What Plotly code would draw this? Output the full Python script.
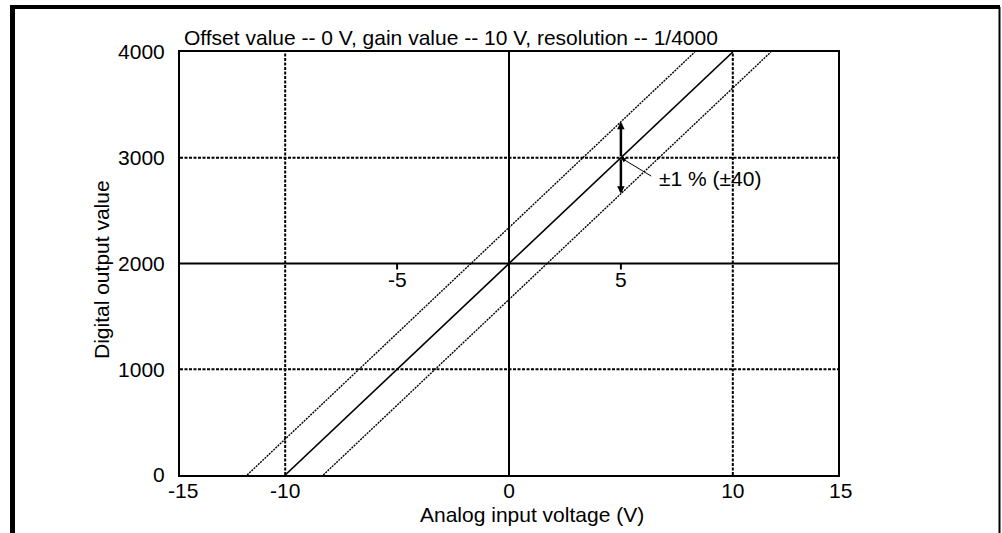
import plotly.graph_objects as go

# ---- data ----
ideal_x = [-10, 10]
ideal_y = [0, 4000]
upper_x = [-11.7, 8.3]
upper_y = [0, 4000]
lower_x = [-8.3, 11.7]
lower_y = [0, 4000]

x_ticks = [-10, 0, 10]
x_tick_text = ["-10", "0", "10"]
x_end_labels = ["-15", "15"]
y_ticks = [0, 1000, 2000, 3000, 4000]
y_tick_text = ["0", "1000", "2000", "3000", "4000"]
x_dash_grid = [-10, 10]
y_dash_grid = [1000, 3000]
inner_ticks = [-5, 5]
inner_tick_text = ["-5", "5"]
center_x = 0
center_y = 2000

err_x = 5
err_center = 3000
err_top = 3340
err_bottom = 2660
err_label = "±1 % (±40)"
label_x, label_y = 6.6, 2800
leader_tail = (6.42, 2818)

title_text = "Offset value -- 0 V, gain value -- 10 V, resolution -- 1/4000"
x_title = "Analog input voltage (V)"
y_title = "Digital output value"

FONT = "Liberation Sans, Arial, sans-serif"
FS = 21
W, H = 1002, 533
L, R, T, B = 180, 838, 52, 475


def px(xp):
    return (xp - L) / (R - L)


def py(yp):
    return (B - yp) / (B - T)


fig = go.Figure()
dash = "3px,1.5px"
fig.add_trace(go.Scatter(x=upper_x, y=upper_y, mode="lines",
                         line=dict(color="black", width=1.4, dash="2px,1px"), hoverinfo="skip"))
fig.add_trace(go.Scatter(x=lower_x, y=lower_y, mode="lines",
                         line=dict(color="black", width=1.4, dash="2px,1px"), hoverinfo="skip"))
fig.add_trace(go.Scatter(x=ideal_x, y=ideal_y, mode="lines",
                         line=dict(color="black", width=1.6), hoverinfo="skip"))

shapes = []
for gx in x_dash_grid:
    shapes.append(dict(type="line", xref="x", yref="paper", x0=gx, x1=gx, y0=0, y1=1,
                       line=dict(color="black", width=2, dash=dash), layer="below"))
for gy in y_dash_grid:
    shapes.append(dict(type="line", xref="paper", yref="y", x0=0, x1=1, y0=gy, y1=gy,
                       line=dict(color="black", width=2, dash=dash), layer="below"))
shapes.append(dict(type="line", xref="x", yref="paper", x0=center_x, x1=center_x, y0=0, y1=1,
                   line=dict(color="black", width=2), layer="below"))
shapes.append(dict(type="line", xref="paper", yref="y", x0=0, x1=1, y0=center_y, y1=center_y,
                   line=dict(color="black", width=2), layer="below"))
for tx in inner_ticks:
    shapes.append(dict(type="line", xref="x", yref="y", ysizemode="pixel", yanchor=center_y,
                       x0=tx, x1=tx, y0=0, y1=-6, line=dict(color="black", width=2)))
# outer frame
shapes.append(dict(type="line", xref="paper", yref="paper", x0=px(12.5), x1=px(12.5),
                   y0=py(5), y1=py(540), line=dict(color="black", width=5)))
shapes.append(dict(type="line", xref="paper", yref="paper", x0=px(10), x1=px(1000),
                   y0=py(7), y1=py(7), line=dict(color="black", width=4)))
shapes.append(dict(type="line", xref="paper", yref="paper", x0=px(999.5), x1=px(999.5),
                   y0=py(7), y1=py(540), line=dict(color="black", width=2)))

annotations = []
for tx, tt in zip(inner_ticks, inner_tick_text):
    annotations.append(dict(x=tx, y=center_y, xref="x", yref="y", text=tt, showarrow=False,
                            yshift=-16, yanchor="middle", font=dict(size=FS)))
annotations.append(dict(x=0, y=0, xref="paper", yref="paper", text=x_end_labels[0], showarrow=False,
                        xanchor="center", yanchor="middle", yshift=-15, xshift=3, font=dict(size=FS)))
annotations.append(dict(x=1, y=0, xref="paper", yref="paper", text=x_end_labels[1], showarrow=False,
                        xanchor="center", yanchor="middle", yshift=-15, xshift=2, font=dict(size=FS)))
# error bar arrows
annotations.append(dict(x=err_x, y=err_top, ax=err_x, ay=err_center, xref="x", yref="y",
                        axref="x", ayref="y", text="", showarrow=True, arrowhead=2,
                        arrowsize=0.6, arrowwidth=2.5, arrowcolor="black"))
annotations.append(dict(x=err_x, y=err_bottom, ax=err_x, ay=err_center, xref="x", yref="y",
                        axref="x", ayref="y", text="", showarrow=True, arrowhead=2,
                        arrowsize=0.6, arrowwidth=2.5, arrowcolor="black"))
annotations.append(dict(x=err_x, y=err_center, ax=leader_tail[0], ay=leader_tail[1], xref="x", yref="y",
                        axref="x", ayref="y", text="", showarrow=True, arrowhead=2,
                        arrowsize=1, arrowwidth=1, arrowcolor="black"))
annotations.append(dict(x=label_x, y=label_y, xref="x", yref="y", text=err_label, showarrow=False,
                        xanchor="left", yanchor="middle", font=dict(size=FS)))
annotations.append(dict(x=px(182), y=py(38), xref="paper", yref="paper", text=title_text, showarrow=False,
                        xanchor="left", yanchor="middle", font=dict(size=FS)))
annotations.append(dict(x=px(418), y=py(514), xref="paper", yref="paper", text=x_title, showarrow=False,
                        xanchor="left", yanchor="middle", font=dict(size=FS)))
annotations.append(dict(x=px(101), y=py(270), xref="paper", yref="paper", text=y_title, showarrow=False,
                        textangle=-90, xanchor="center", yanchor="middle", font=dict(size=FS)))

fig.update_layout(
    width=W, height=H,
    margin=dict(l=L, r=W - R, t=T, b=H - B, pad=0),
    paper_bgcolor="white", plot_bgcolor="white",
    showlegend=False,
    font=dict(family=FONT, size=FS, color="black"),
    shapes=shapes, annotations=annotations,
    xaxis=dict(range=[-14.7, 14.7], tickvals=x_ticks, ticktext=x_tick_text, showgrid=False,
               zeroline=False, showline=True, mirror=True, linecolor="black", linewidth=2,
               ticks="", ticklabelstandoff=-4, fixedrange=True),
    yaxis=dict(range=[0, 4000], tickvals=y_ticks, ticktext=y_tick_text, showgrid=False,
               zeroline=False, showline=True, mirror=True, linecolor="black", linewidth=2,
               ticks="", ticklabelstandoff=9, fixedrange=True),
)
fig.write_html("out.html", config={"displayModeBar": False},
               post_script="document.body.style.margin='0';")
